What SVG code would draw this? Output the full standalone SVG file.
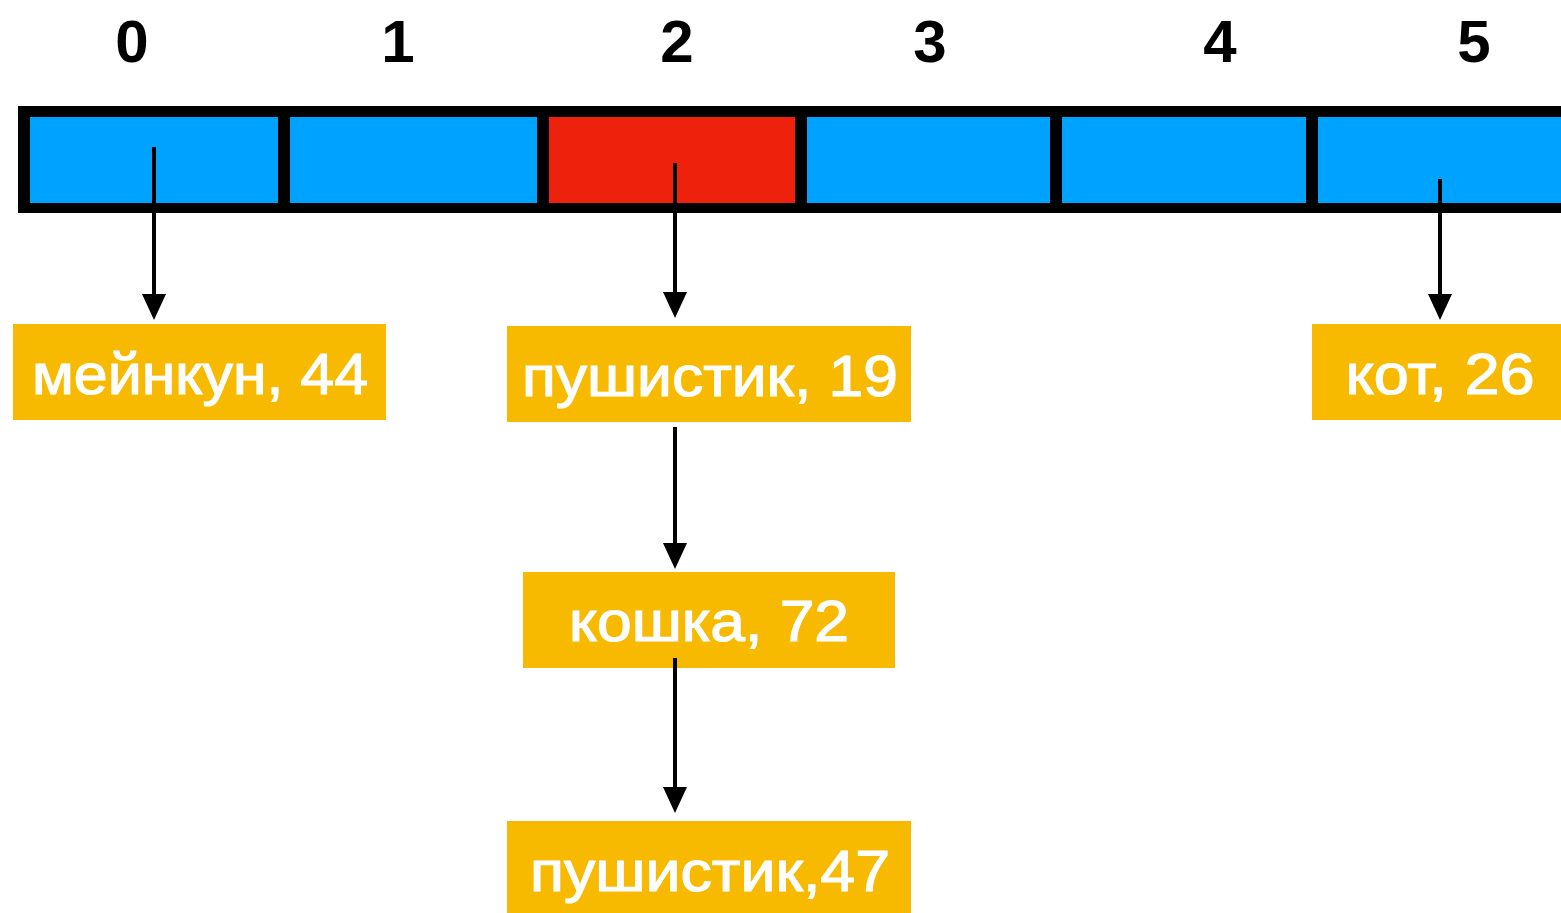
<svg xmlns="http://www.w3.org/2000/svg" width="1561" height="913" viewBox="0 0 1561 913">
<style>
.idx{font-family:"Liberation Sans",Arial,sans-serif;font-weight:bold;font-size:60px;fill:#000;text-anchor:middle}
.lbl{font-family:"Liberation Sans",Arial,sans-serif;font-size:58px;fill:#fff;stroke:#fff;stroke-width:1.2;text-anchor:middle}
.box{fill:#F8BA00}
.cell{fill:#00A2FF}
.line{stroke:#000;stroke-width:4}
</style>
<rect width="1561" height="913" fill="#fff"/>
<g id="indices">
<text class="idx" x="132" y="62">0</text>
<text class="idx" x="398" y="62">1</text>
<text class="idx" x="677" y="62">2</text>
<text class="idx" x="930" y="62">3</text>
<text class="idx" x="1220" y="62">4</text>
<text class="idx" x="1474" y="62">5</text>
</g>
<g id="array">
<rect x="18" y="106" width="1560" height="107" fill="#000"/>
<rect id="cell0" class="cell" x="30" y="117" width="248" height="86"/>
<rect id="cell1" class="cell" x="290" y="117" width="247" height="86"/>
<rect id="cell2" x="549" y="117" width="246" height="86" fill="#EE220C"/>
<rect id="cell3" class="cell" x="807" y="117" width="243" height="86"/>
<rect id="cell4" class="cell" x="1062" y="117" width="244" height="86"/>
<rect id="cell5" class="cell" x="1318" y="117" width="260" height="86"/>
</g>
<g id="n1"><rect class="box" x="13" y="324" width="373" height="96"/><text class="lbl" x="200" y="394" textLength="336" lengthAdjust="spacingAndGlyphs">мейнкун, 44</text></g>
<g id="n2"><rect class="box" x="507" y="326" width="404" height="96"/><text class="lbl" x="710" y="396" textLength="376" lengthAdjust="spacingAndGlyphs">пушистик, 19</text></g>
<g id="n3"><rect class="box" x="1312" y="324" width="260" height="96"/><text class="lbl" x="1440" y="394" textLength="189" lengthAdjust="spacingAndGlyphs">кот, 26</text></g>
<g id="n4"><rect class="box" x="523" y="572" width="372" height="96"/><text class="lbl" x="709" y="641" textLength="280" lengthAdjust="spacingAndGlyphs">кошка, 72</text></g>
<g id="n5"><rect class="box" x="507" y="821" width="404" height="100"/><text class="lbl" x="710" y="891" textLength="360" lengthAdjust="spacingAndGlyphs">пушистик,47</text></g>
<g id="connectors">
<line class="line" x1="154" y1="147" x2="154" y2="296"/>
<path d="M142,294 L166,294 L154,320 Z" fill="#000"/>
<line class="line" x1="675" y1="163" x2="675" y2="294"/>
<path d="M663,292 L687,292 L675,318 Z" fill="#000"/>
<line class="line" x1="1440" y1="179" x2="1440" y2="296"/>
<path d="M1428,294 L1452,294 L1440,320 Z" fill="#000"/>
<line class="line" x1="675" y1="427" x2="675" y2="545"/>
<path d="M663,543 L687,543 L675,569 Z" fill="#000"/>
<line class="line" x1="675" y1="658" x2="675" y2="789"/>
<path d="M663,787 L687,787 L675,813 Z" fill="#000"/>
</g>
</svg>
